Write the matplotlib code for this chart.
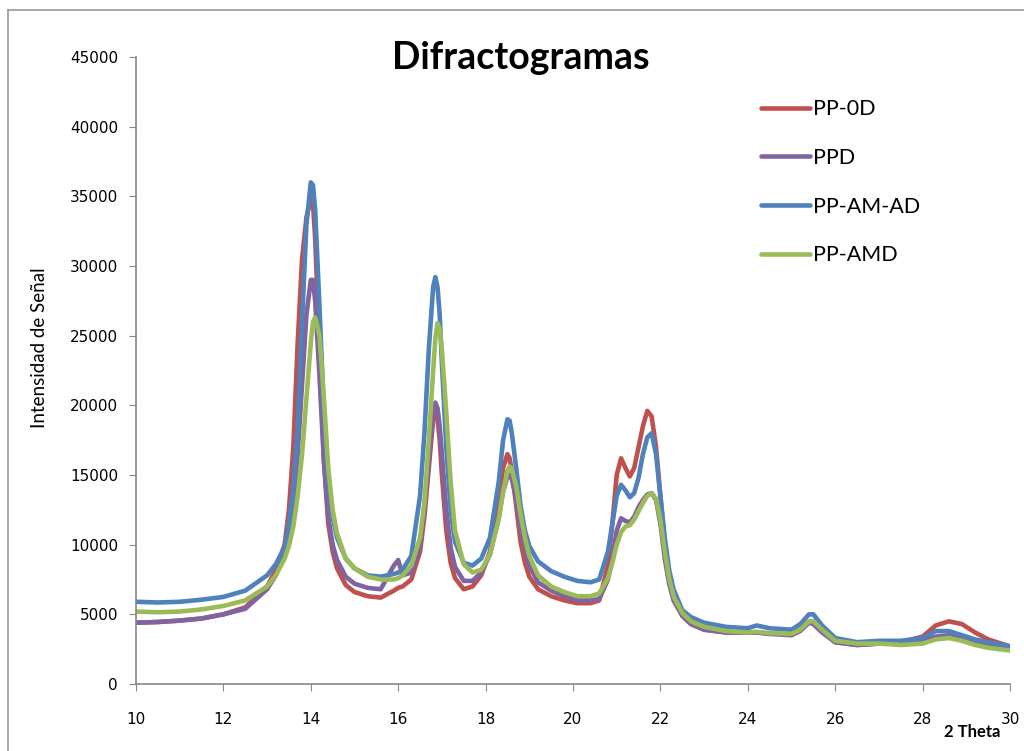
import matplotlib.pyplot as plt
from matplotlib.lines import Line2D

# 2 theta positions
theta = [10, 10.5, 11, 11.5, 12, 12.5, 13, 13.2, 13.4, 13.5, 13.6, 13.7, 13.8, 13.9, 14.0, 14.05, 14.1,
         14.2, 14.3, 14.4, 14.5, 14.6, 14.8, 15.0, 15.3, 15.6, 15.9, 16.0, 16.1, 16.3, 16.5, 16.6, 16.7,
         16.8, 16.85, 16.9, 16.95, 17.0, 17.1, 17.2, 17.3, 17.5, 17.7, 17.9, 18.1, 18.3, 18.4, 18.5, 18.55,
         18.6, 18.7, 18.8, 18.9, 19.0, 19.2, 19.5, 19.8, 20.1, 20.4, 20.6, 20.8, 20.9, 21.0, 21.1, 21.2,
         21.3, 21.4, 21.5, 21.6, 21.7, 21.8, 21.9, 22.0, 22.1, 22.2, 22.3, 22.5, 22.7, 23.0, 23.5, 24.0,
         24.2, 24.5, 25.0, 25.2, 25.4, 25.5, 25.7, 26.0, 26.5, 27.0, 27.5, 28.0, 28.3, 28.6, 28.9, 29.2,
         29.5, 30.0]

pp_0d = [4400, 4450, 4550, 4700, 5000, 5500, 7000, 8200, 10000, 12500, 17000, 24500, 30500, 33500, 34800, 34500, 32000,
         24000, 16000, 11500, 9500, 8300, 7100, 6600, 6300, 6200, 6700, 6900, 7000, 7500, 9500, 12000, 15500,
         19000, 19600, 19000, 17500, 15000, 11000, 8700, 7600, 6800, 7000, 7800, 9500, 13000, 15500, 16500, 16200,
         15300, 12800, 10200, 8700, 7700, 6800, 6300, 6000, 5800, 5800, 6000, 8500, 11500, 15000, 16200, 15500,
         14900, 15500, 17000, 18500, 19600, 19200, 17000, 13500, 10000, 7500, 6200, 4900, 4300, 3900, 3700, 3700,
         3700, 3600, 3600, 3900, 4500, 4400, 3800, 3000, 2800, 2900, 3000, 3400, 4200, 4500, 4300, 3700,
         3200, 2700]

ppd = [4400, 4450, 4550, 4700, 5000, 5400, 6800, 7800, 9300, 10500, 12800, 16500, 21500, 26500, 29000, 29000, 27500,
       22000, 16000, 12000, 10000, 8900, 7700, 7200, 6900, 6800, 8500, 8900, 7800, 8000, 10000, 12800, 16000,
       19500, 20200, 19800, 18500, 16500, 12500, 9800, 8400, 7400, 7400, 8000, 9300, 12000, 13800, 14900, 15000,
       14700, 13300, 11300, 9700, 8500, 7300, 6700, 6300, 6000, 6000, 6100, 7500, 9000, 11000, 11900, 11700,
       11600, 12000, 12700, 13200, 13600, 13700, 13200, 11500, 9000, 7200, 6000, 4900, 4300, 3900, 3700, 3700,
       3700, 3600, 3500, 3800, 4400, 4300, 3700, 3000, 2800, 2900, 2900, 3100, 3400, 3500, 3300, 3000,
       2800, 2500]

pp_am_ad = [5900, 5850, 5900, 6050, 6250, 6700, 7800, 8600, 9800, 11500, 14000, 18500, 26000, 33000, 36000, 35800, 34000,
            27000, 19500, 14500, 12000, 10500, 9000, 8300, 7800, 7700, 7900, 8000, 8200, 9200, 13500, 18000, 24000,
            28500, 29200, 28500, 26500, 23000, 17000, 12500, 10200, 8700, 8500, 9000, 10500, 14500, 17500, 19000, 18900,
            18000, 15500, 12800, 11000, 9900, 8800, 8100, 7700, 7400, 7300, 7500, 9500, 11500, 13500, 14300, 13900,
            13400, 13700, 14800, 16500, 17700, 18000, 16500, 13500, 10500, 8200, 6800, 5300, 4800, 4400, 4100, 4000,
            4200, 4000, 3900, 4300, 5000, 5000, 4200, 3300, 3000, 3100, 3100, 3300, 3800, 3800, 3500, 3200,
            3000, 2700]

pp_amd = [5200, 5150, 5200, 5350, 5600, 6000, 7000, 7800, 9000, 9900, 11300, 13500, 16500, 20500, 24500, 26000, 26300,
          25000, 20500, 15500, 12500, 10800, 9000, 8300, 7700, 7500, 7500, 7600, 7800, 8500, 10500, 13000, 17500,
          22500, 24800, 25900, 25500, 24000, 19500, 14500, 11000, 8600, 8000, 8200, 9300, 11800, 13800, 15300, 15600,
          15400, 14200, 12200, 10500, 9200, 7800, 7000, 6600, 6300, 6300, 6500, 7600, 8700, 10000, 10900, 11300,
          11400, 11800, 12400, 13000, 13500, 13700, 13300, 11800, 9500, 7600, 6300, 5100, 4500, 4100, 3800, 3700,
          3750, 3650, 3600, 3900, 4500, 4500, 3900, 3100, 2900, 2900, 2800, 2900, 3200, 3300, 3100, 2800,
          2600, 2400]

series = [('PP-0D', pp_0d, '#C0504D'),
          ('PPD', ppd, '#8064A2'),
          ('PP-AM-AD', pp_am_ad, '#4F81BD'),
          ('PP-AMD', pp_amd, '#9BBB59')]

fig = plt.figure(figsize=(10.24, 7.51), dpi=100)
ax = fig.add_axes([136/1024, 1 - 684/751, 874/1024, 627/751])

for name, vals, col in series:
    ax.plot(theta, vals, color=col, lw=3.3, label=name, solid_capstyle='round', solid_joinstyle='round')

ax.set_xlim(10, 30)
ax.set_ylim(0, 45000)
ax.set_xticks(range(10, 31, 2))
ax.set_yticks(range(0, 45001, 5000))

for s in ['top', 'right']:
    ax.spines[s].set_visible(False)
for s in ['left', 'bottom']:
    ax.spines[s].set_color('#868686')
    ax.spines[s].set_linewidth(1.2)
ax.tick_params(direction='out', length=5, color='#868686', labelsize=11)
ax.tick_params(axis='y', pad=8)
ax.tick_params(axis='x', pad=15)

# outer chart border (Excel chart area)
fig.add_artist(Line2D([8/1024, 8/1024], [-0.05, 1 - 10/751], transform=fig.transFigure, color='#9a9a9a', lw=1.2))
fig.add_artist(Line2D([8/1024, 1.05], [1 - 10/751, 1 - 10/751], transform=fig.transFigure, color='#9a9a9a', lw=1.2))

fig.text(521/1024, 1 - 58/751, 'Difractogramas', ha='center', va='center',
         fontsize=27, fontweight='bold', family='Lato')
fig.text(40/1024, 1 - 348/751, 'Intensidad de Señal', rotation=90, ha='center', va='center',
         fontsize=13.5, family='Lato')
fig.text(972/1024, 1 - 732/751, '2 Theta', ha='center', va='center',
         fontsize=12, fontweight='bold', family='Lato')

ax.legend(loc='upper left', bbox_to_anchor=(742/1024, 1 - 80/751), bbox_transform=fig.transFigure,
          frameon=False, handlelength=2.25, handletextpad=0.15, labelspacing=1.33,
          prop={'family': 'Lato', 'size': 15.5})

fig.savefig('out.png', dpi=100)
